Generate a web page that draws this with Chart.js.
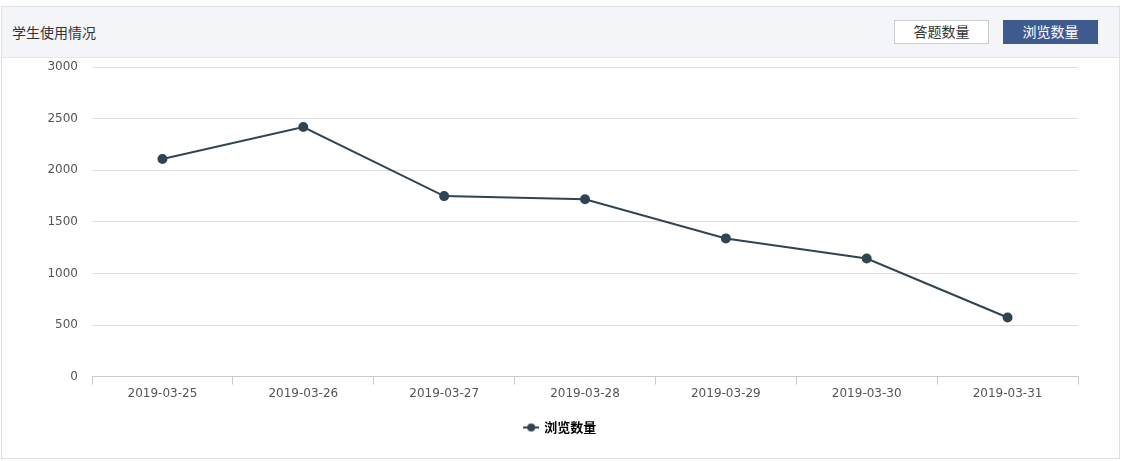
<!DOCTYPE html>
<html><head><meta charset="utf-8">
<script src="https://cdn.jsdelivr.net/npm/chart.js@4/dist/chart.umd.min.js"></script>
<style>
html,body{margin:0;padding:0;background:#fff;}
#box{position:absolute;left:1px;top:6px;width:1117px;height:451px;border:1px solid #dcdfe3;}
#hdr{position:absolute;left:0;top:0;width:1117px;height:50px;background:#f4f5f8;border-bottom:1px solid #e3e5e9;z-index:2;}
#ttl{position:absolute;left:10px;top:15px;font:14px "Noto Sans CJK SC",sans-serif;color:#333;}
.btn{position:absolute;top:13px;height:24px;width:95px;box-sizing:border-box;text-align:center;line-height:22px;font:14px "Noto Sans CJK SC",sans-serif;}
#b1{left:892px;background:#fff;border:1px solid #c9ccd2;color:#333;}
#b2{left:1001px;background:#3f5a8f;border:1px solid #3f5a8f;color:#fff;}
#wrap{position:absolute;left:0;top:39px;width:1117px;height:409px;z-index:1;}
</style></head><body>
<div id="box">
<div id="hdr"><div id="ttl">学生使用情况</div>
<div class="btn" id="b1">答题数量</div><div class="btn" id="b2">浏览数量</div></div>
<div id="wrap"><canvas id="c" width="1117" height="409"></canvas></div>
</div>
<script>
const categories=["2019-03-25","2019-03-26","2019-03-27","2019-03-28","2019-03-29","2019-03-30","2019-03-31"];
const seriesName="浏览数量";
const values=[2110,2420,1750,1720,1340,1145,573];
const yTicks={min:0,max:3000,step:500};
const lineColor="#2f4554";

const ic=document.createElement('canvas');ic.width=16;ic.height=10;
const g=ic.getContext('2d');g.strokeStyle=lineColor;g.lineWidth=2;g.beginPath();g.moveTo(0,5);g.lineTo(16,5);g.stroke();
g.fillStyle=lineColor;g.beginPath();g.arc(8,5,4,0,Math.PI*2);g.fill();

new Chart(document.getElementById('c'),{
 type:'line',
 data:{labels:categories,datasets:[{label:seriesName,data:values,borderColor:lineColor,backgroundColor:lineColor,borderWidth:2,pointRadius:4,pointHoverRadius:4,tension:0,fill:false}]},
 options:{responsive:false,animation:false,
  layout:{padding:{left:41,right:41,top:0,bottom:11}},
  plugins:{tooltip:{enabled:false},
   legend:{position:'bottom',labels:{usePointStyle:true,color:'#333',font:{family:'"Noto Sans CJK SC",sans-serif',size:13,weight:'bold'},padding:18,
     generateLabels:(ch)=>[{text:seriesName,pointStyle:ic,fillStyle:lineColor,strokeStyle:lineColor,lineWidth:0,datasetIndex:0}]}}},
  scales:{
   x:{offset:true,grid:{offset:true,drawOnChartArea:false,drawTicks:true,tickLength:8,color:'#c8ccd2'},border:{color:'#c8ccd2'},
      ticks:{color:'#555',font:{family:'"DejaVu Sans",sans-serif',size:12},padding:2,maxRotation:0}},
   y:{min:yTicks.min,max:yTicks.max,ticks:{stepSize:yTicks.step,color:'#555',font:{family:'"DejaVu Sans",sans-serif',size:12},padding:14,callback:(v)=>String(v)},
      grid:{color:'#dedede',drawTicks:false},border:{display:false},
      afterFit:(s)=>{s.width=49;}}
  }
 }
});
</script>
</body></html>
